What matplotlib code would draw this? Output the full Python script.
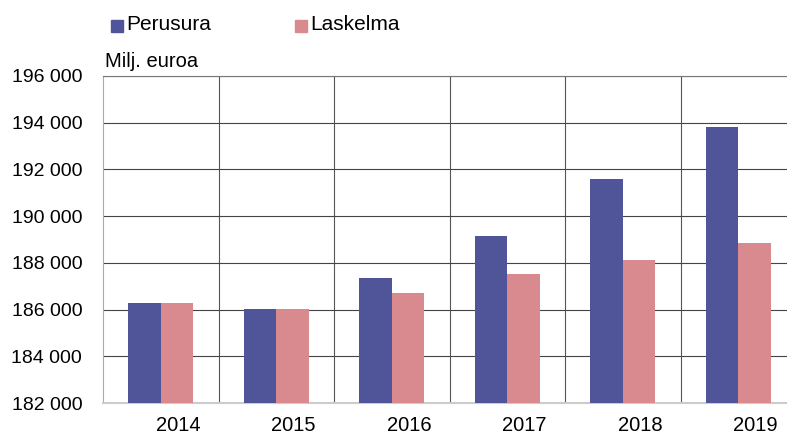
import numpy as np
import matplotlib.pyplot as plt
from matplotlib.patches import Rectangle

# data
years = ['2014', '2015', '2016', '2017', '2018', '2019']
perusura = [186280, 186030, 187370, 189170, 191580, 193820]
laskelma = [186280, 186030, 186710, 187520, 188140, 188850]
yticks = [182000, 184000, 186000, 188000, 190000, 192000, 194000, 196000]

col_p = '#50559a'
col_l = '#d88a8f'

plt.rcParams['font.family'] = ['Liberation Sans', 'DejaVu Sans']

fig = plt.figure(figsize=(7.87, 4.36), dpi=100)
# right edge of last category lies past the figure edge, like the reference
ax = fig.add_axes([103 / 787, (436 - 403) / 436, 693 / 787, 327 / 436])

x = np.arange(len(years))
w = 0.28
ax.bar(x - w / 2, perusura, w, color=col_p, zorder=3, label='Perusura')
ax.bar(x + w / 2, laskelma, w, color=col_l, zorder=3, label='Laskelma')

ax.set_xlim(-0.5, len(years) - 0.5)
ax.set_ylim(182000, 196000)

ax.set_yticks(yticks)
ax.set_yticklabels([f'{v:,}'.replace(',', ' ') for v in yticks], fontsize=14)
ax.tick_params(axis='y', length=0, pad=15)

ax.set_xticks(x + 0.15)
ax.set_xticklabels(years, fontsize=14.5)
ax.tick_params(axis='x', length=0, pad=9)

# grid: horizontal at y ticks, vertical at category boundaries
ax.yaxis.grid(True, color='#444444', linewidth=0.8, zorder=0)
for b in np.arange(0.5, len(years) - 0.5, 1):
    ax.axvline(b, color='#555555', linewidth=0.8, zorder=0)

ax.spines['right'].set_visible(False)
ax.spines['top'].set_color('#777777')
ax.spines['left'].set_color('#aaaaaa')
ax.spines['bottom'].set_color('#cccccc')
ax.spines['bottom'].set_linewidth(1.5)

ax.text(0.003, 1.015, 'Milj. euroa', transform=ax.transAxes, fontsize=14.5,
        ha='left', va='bottom')

# legend drawn at top as in the reference
fig.patches.append(Rectangle((111 / 787, 1 - 32 / 436), 12 / 787, 12 / 436,
                             transform=fig.transFigure, color=col_p))
fig.text(126 / 787, 1 - 25 / 436, 'Perusura', fontsize=15, va='center')
fig.patches.append(Rectangle((295 / 787, 1 - 32 / 436), 12 / 787, 12 / 436,
                             transform=fig.transFigure, color=col_l))
fig.text(310 / 787, 1 - 25 / 436, 'Laskelma', fontsize=15, va='center')

fig.savefig('out.png', dpi=100)
